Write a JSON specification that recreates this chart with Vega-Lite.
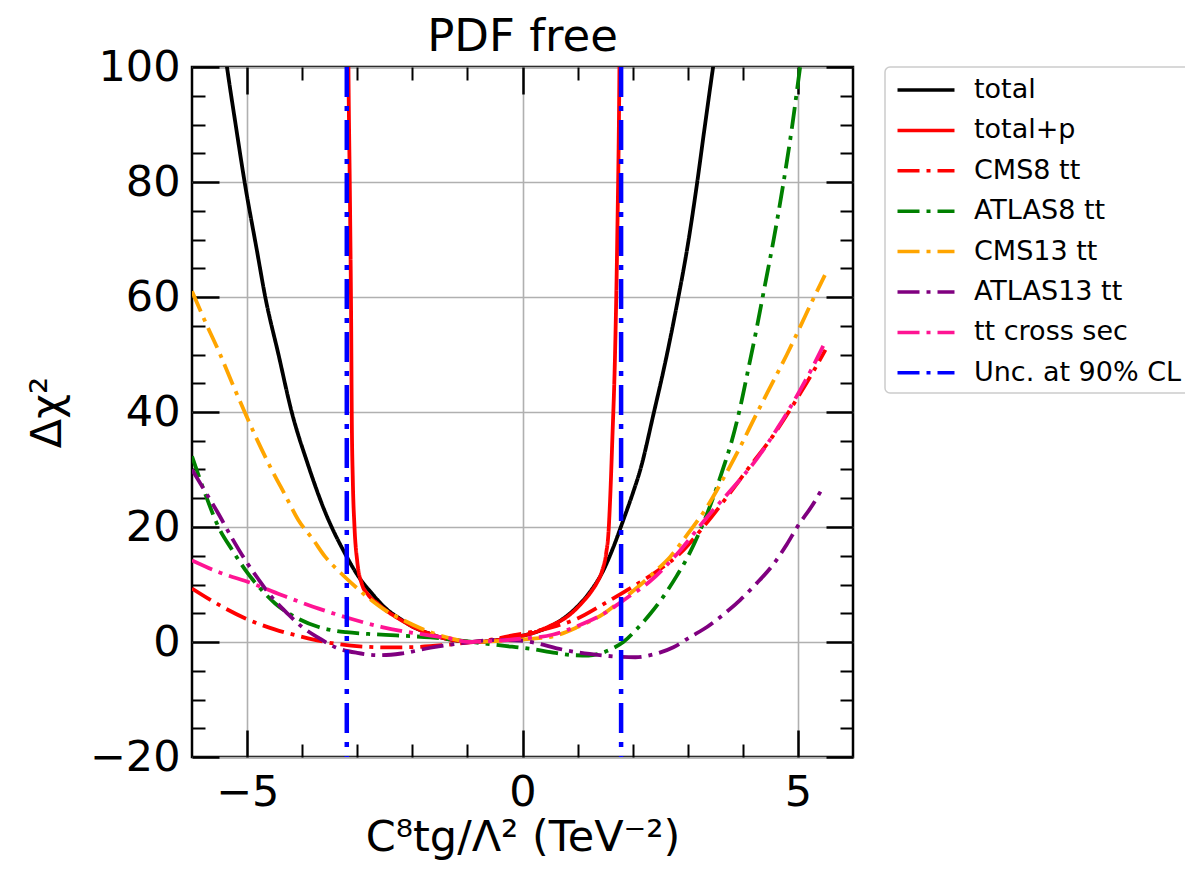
{
  "$schema": "https://vega.github.io/schema/vega-lite/v6.json",
  "width": 661,
  "height": 690,
  "autosize": {"type": "none"},
  "padding": {"left": 192, "top": 67, "right": 332, "bottom": 119},
  "background": "white",
  "title": {"text": "PDF free", "fontSize": 45, "font": "DejaVu Sans", "fontWeight": "normal", "offset": -14, "anchor": "middle", "color": "black"},
  "config": {
    "view": {"stroke": "black", "strokeWidth": 2.5},
    "font": "DejaVu Sans",
    "axis": {"labelFont": "DejaVu Sans", "titleFont": "DejaVu Sans", "labelColor": "black", "titleColor": "black", "tickColor": "black", "domain": false},
    "legend": {"padding": 7, "strokeColor": "#cccccc", "strokeWidth": 1.5, "cornerRadius": 5, "fillColor": "white", "labelFontSize": 27, "labelFont": "DejaVu Sans", "labelColor": "black", "symbolType": "M-2,0L2,0", "symbolSize": 812, "symbolStrokeWidth": 3.5, "symbolOffset": 18, "rowPadding": 11.4, "labelOffset": 32, "labelLimit": 400}
  },
  "datasets": {
    "curves": [
      {"s": "total", "x": -5.45, "y": 106}, {"s": "total", "x": -5.365, "y": 100}, {"s": "total", "x": -5.2, "y": 89.5}, {"s": "total", "x": -5.045, "y": 80}, {"s": "total", "x": -4.82, "y": 68}, {"s": "total", "x": -4.67, "y": 60}, {"s": "total", "x": -4.43, "y": 50}, {"s": "total", "x": -4.19, "y": 40}, {"s": "total", "x": -3.9, "y": 31}, {"s": "total", "x": -3.6, "y": 23}, {"s": "total", "x": -3.2, "y": 15}, {"s": "total", "x": -2.95, "y": 11}, {"s": "total", "x": -2.73, "y": 8.4}, {"s": "total", "x": -2.5, "y": 6}, {"s": "total", "x": -2.2, "y": 3.9}, {"s": "total", "x": -2.0, "y": 2.7}, {"s": "total", "x": -1.7, "y": 1.5}, {"s": "total", "x": -1.4, "y": 0.6}, {"s": "total", "x": -1.1, "y": 0.15}, {"s": "total", "x": -0.9, "y": 0}, {"s": "total", "x": -0.6, "y": 0.15}, {"s": "total", "x": -0.3, "y": 0.6}, {"s": "total", "x": 0, "y": 1.1}, {"s": "total", "x": 0.2, "y": 1.6}, {"s": "total", "x": 0.5, "y": 2.7}, {"s": "total", "x": 0.8, "y": 4.5}, {"s": "total", "x": 1.0, "y": 6.2}, {"s": "total", "x": 1.2, "y": 8.4}, {"s": "total", "x": 1.47, "y": 12.5}, {"s": "total", "x": 1.65, "y": 16.5}, {"s": "total", "x": 1.83, "y": 21.2}, {"s": "total", "x": 2.0, "y": 25.8}, {"s": "total", "x": 2.14, "y": 30}, {"s": "total", "x": 2.38, "y": 39.7}, {"s": "total", "x": 2.6, "y": 49}, {"s": "total", "x": 2.8, "y": 58.5}, {"s": "total", "x": 3.0, "y": 69}, {"s": "total", "x": 3.165, "y": 79.5}, {"s": "total", "x": 3.3, "y": 89}, {"s": "total", "x": 3.46, "y": 100}, {"s": "total", "x": 3.55, "y": 106},

      {"s": "total+p", "x": -3.165, "y": 106}, {"s": "total+p", "x": -3.16, "y": 100}, {"s": "total+p", "x": -3.13, "y": 75}, {"s": "total+p", "x": -3.11, "y": 55}, {"s": "total+p", "x": -3.1, "y": 40}, {"s": "total+p", "x": -3.08, "y": 28}, {"s": "total+p", "x": -3.05, "y": 20}, {"s": "total+p", "x": -3.0, "y": 14}, {"s": "total+p", "x": -2.92, "y": 10.2}, {"s": "total+p", "x": -2.8, "y": 8.2}, {"s": "total+p", "x": -2.62, "y": 6.6}, {"s": "total+p", "x": -2.45, "y": 5.3}, {"s": "total+p", "x": -2.2, "y": 3.8}, {"s": "total+p", "x": -2.0, "y": 2.7}, {"s": "total+p", "x": -1.7, "y": 1.5}, {"s": "total+p", "x": -1.4, "y": 0.6}, {"s": "total+p", "x": -1.1, "y": 0.15}, {"s": "total+p", "x": -0.9, "y": 0}, {"s": "total+p", "x": -0.6, "y": 0.15}, {"s": "total+p", "x": -0.3, "y": 0.6}, {"s": "total+p", "x": 0, "y": 1.1}, {"s": "total+p", "x": 0.2, "y": 1.6}, {"s": "total+p", "x": 0.5, "y": 2.8}, {"s": "total+p", "x": 0.81, "y": 4.4}, {"s": "total+p", "x": 1.05, "y": 6.5}, {"s": "total+p", "x": 1.25, "y": 8.8}, {"s": "total+p", "x": 1.35, "y": 10.3}, {"s": "total+p", "x": 1.45, "y": 12.5}, {"s": "total+p", "x": 1.52, "y": 15.5}, {"s": "total+p", "x": 1.56, "y": 18.9}, {"s": "total+p", "x": 1.59, "y": 24.6}, {"s": "total+p", "x": 1.63, "y": 35}, {"s": "total+p", "x": 1.68, "y": 50}, {"s": "total+p", "x": 1.72, "y": 70}, {"s": "total+p", "x": 1.76, "y": 100}, {"s": "total+p", "x": 1.765, "y": 106},

      {"s": "CMS8 tt", "x": -6, "y": 9.3}, {"s": "CMS8 tt", "x": -5.5, "y": 6.4}, {"s": "CMS8 tt", "x": -5.03, "y": 4.1}, {"s": "CMS8 tt", "x": -4.5, "y": 2.2}, {"s": "CMS8 tt", "x": -4.0, "y": 0.9}, {"s": "CMS8 tt", "x": -3.4, "y": -0.3}, {"s": "CMS8 tt", "x": -2.9, "y": -0.8}, {"s": "CMS8 tt", "x": -2.4, "y": -0.95}, {"s": "CMS8 tt", "x": -1.9, "y": -0.85}, {"s": "CMS8 tt", "x": -1.4, "y": -0.5}, {"s": "CMS8 tt", "x": -0.9, "y": 0}, {"s": "CMS8 tt", "x": -0.5, "y": 0.5}, {"s": "CMS8 tt", "x": -0.16, "y": 1.2}, {"s": "CMS8 tt", "x": 0.2, "y": 1.8}, {"s": "CMS8 tt", "x": 0.62, "y": 2.8}, {"s": "CMS8 tt", "x": 1.0, "y": 4.1}, {"s": "CMS8 tt", "x": 1.47, "y": 6.6}, {"s": "CMS8 tt", "x": 2.1, "y": 10.2}, {"s": "CMS8 tt", "x": 2.5, "y": 12.7}, {"s": "CMS8 tt", "x": 2.86, "y": 15.4}, {"s": "CMS8 tt", "x": 3.3, "y": 20.2}, {"s": "CMS8 tt", "x": 3.71, "y": 25.2}, {"s": "CMS8 tt", "x": 4.1, "y": 30.2}, {"s": "CMS8 tt", "x": 4.55, "y": 35.9}, {"s": "CMS8 tt", "x": 5.04, "y": 43.2}, {"s": "CMS8 tt", "x": 5.3, "y": 47.4}, {"s": "CMS8 tt", "x": 5.5, "y": 50.8},

      {"s": "ATLAS8 tt", "x": -6, "y": 32.3}, {"s": "ATLAS8 tt", "x": -5.75, "y": 25.5}, {"s": "ATLAS8 tt", "x": -5.52, "y": 20}, {"s": "ATLAS8 tt", "x": -5.27, "y": 16}, {"s": "ATLAS8 tt", "x": -5.03, "y": 12.5}, {"s": "ATLAS8 tt", "x": -4.75, "y": 9.2}, {"s": "ATLAS8 tt", "x": -4.49, "y": 6.7}, {"s": "ATLAS8 tt", "x": -4.1, "y": 4.2}, {"s": "ATLAS8 tt", "x": -3.7, "y": 2.6}, {"s": "ATLAS8 tt", "x": -3.2, "y": 1.7}, {"s": "ATLAS8 tt", "x": -2.8, "y": 1.4}, {"s": "ATLAS8 tt", "x": -2.3, "y": 1.15}, {"s": "ATLAS8 tt", "x": -1.67, "y": 0.8}, {"s": "ATLAS8 tt", "x": -0.95, "y": 0.05}, {"s": "ATLAS8 tt", "x": -0.4, "y": -0.6}, {"s": "ATLAS8 tt", "x": 0.15, "y": -1.2}, {"s": "ATLAS8 tt", "x": 0.6, "y": -1.9}, {"s": "ATLAS8 tt", "x": 0.95, "y": -2.3}, {"s": "ATLAS8 tt", "x": 1.2, "y": -2.35}, {"s": "ATLAS8 tt", "x": 1.41, "y": -2.0}, {"s": "ATLAS8 tt", "x": 1.62, "y": -1.2}, {"s": "ATLAS8 tt", "x": 1.83, "y": 0}, {"s": "ATLAS8 tt", "x": 2.08, "y": 2.3}, {"s": "ATLAS8 tt", "x": 2.32, "y": 4.9}, {"s": "ATLAS8 tt", "x": 2.55, "y": 7.8}, {"s": "ATLAS8 tt", "x": 2.8, "y": 11.5}, {"s": "ATLAS8 tt", "x": 3.0, "y": 14.8}, {"s": "ATLAS8 tt", "x": 3.23, "y": 19.5}, {"s": "ATLAS8 tt", "x": 3.45, "y": 24.8}, {"s": "ATLAS8 tt", "x": 3.65, "y": 30.4}, {"s": "ATLAS8 tt", "x": 3.8, "y": 35}, {"s": "ATLAS8 tt", "x": 3.95, "y": 40.7}, {"s": "ATLAS8 tt", "x": 4.1, "y": 47.5}, {"s": "ATLAS8 tt", "x": 4.25, "y": 54.5}, {"s": "ATLAS8 tt", "x": 4.4, "y": 62}, {"s": "ATLAS8 tt", "x": 4.56, "y": 70}, {"s": "ATLAS8 tt", "x": 4.74, "y": 80}, {"s": "ATLAS8 tt", "x": 4.9, "y": 90}, {"s": "ATLAS8 tt", "x": 5.04, "y": 100}, {"s": "ATLAS8 tt", "x": 5.1, "y": 104},

      {"s": "CMS13 tt", "x": -6, "y": 61}, {"s": "CMS13 tt", "x": -5.75, "y": 55.5}, {"s": "CMS13 tt", "x": -5.52, "y": 50.7}, {"s": "CMS13 tt", "x": -5.27, "y": 45}, {"s": "CMS13 tt", "x": -5.03, "y": 39.7}, {"s": "CMS13 tt", "x": -4.8, "y": 34.8}, {"s": "CMS13 tt", "x": -4.55, "y": 29.9}, {"s": "CMS13 tt", "x": -4.3, "y": 25.4}, {"s": "CMS13 tt", "x": -4.07, "y": 21.2}, {"s": "CMS13 tt", "x": -3.8, "y": 17.8}, {"s": "CMS13 tt", "x": -3.58, "y": 14.8}, {"s": "CMS13 tt", "x": -3.3, "y": 12}, {"s": "CMS13 tt", "x": -3.1, "y": 10.2}, {"s": "CMS13 tt", "x": -2.8, "y": 7.7}, {"s": "CMS13 tt", "x": -2.49, "y": 5.5}, {"s": "CMS13 tt", "x": -2.16, "y": 3.8}, {"s": "CMS13 tt", "x": -1.85, "y": 2.4}, {"s": "CMS13 tt", "x": -1.55, "y": 1.3}, {"s": "CMS13 tt", "x": -1.25, "y": 0.5}, {"s": "CMS13 tt", "x": -0.95, "y": 0}, {"s": "CMS13 tt", "x": -0.6, "y": 0.1}, {"s": "CMS13 tt", "x": -0.2, "y": 0.3}, {"s": "CMS13 tt", "x": 0.2, "y": 0.6}, {"s": "CMS13 tt", "x": 0.56, "y": 1.0}, {"s": "CMS13 tt", "x": 1.0, "y": 2.6}, {"s": "CMS13 tt", "x": 1.47, "y": 4.9}, {"s": "CMS13 tt", "x": 1.8, "y": 7.3}, {"s": "CMS13 tt", "x": 2.1, "y": 9.6}, {"s": "CMS13 tt", "x": 2.4, "y": 12.2}, {"s": "CMS13 tt", "x": 2.68, "y": 14.8}, {"s": "CMS13 tt", "x": 3.0, "y": 18.8}, {"s": "CMS13 tt", "x": 3.35, "y": 23.5}, {"s": "CMS13 tt", "x": 3.65, "y": 28.5}, {"s": "CMS13 tt", "x": 3.95, "y": 33.9}, {"s": "CMS13 tt", "x": 4.25, "y": 39.7}, {"s": "CMS13 tt", "x": 4.56, "y": 45.5}, {"s": "CMS13 tt", "x": 4.8, "y": 50}, {"s": "CMS13 tt", "x": 5.04, "y": 54.8}, {"s": "CMS13 tt", "x": 5.27, "y": 59.5}, {"s": "CMS13 tt", "x": 5.49, "y": 63.8},

      {"s": "ATLAS13 tt", "x": -6, "y": 30}, {"s": "ATLAS13 tt", "x": -5.75, "y": 26}, {"s": "ATLAS13 tt", "x": -5.52, "y": 22.3}, {"s": "ATLAS13 tt", "x": -5.27, "y": 18}, {"s": "ATLAS13 tt", "x": -5.03, "y": 14.2}, {"s": "ATLAS13 tt", "x": -4.8, "y": 11}, {"s": "ATLAS13 tt", "x": -4.55, "y": 7.8}, {"s": "ATLAS13 tt", "x": -4.25, "y": 4.8}, {"s": "ATLAS13 tt", "x": -4.0, "y": 2.6}, {"s": "ATLAS13 tt", "x": -3.7, "y": 0.7}, {"s": "ATLAS13 tt", "x": -3.4, "y": -0.9}, {"s": "ATLAS13 tt", "x": -3.0, "y": -1.9}, {"s": "ATLAS13 tt", "x": -2.6, "y": -2.3}, {"s": "ATLAS13 tt", "x": -2.2, "y": -2.0}, {"s": "ATLAS13 tt", "x": -1.67, "y": -1.0}, {"s": "ATLAS13 tt", "x": -1.2, "y": -0.3}, {"s": "ATLAS13 tt", "x": -0.95, "y": 0}, {"s": "ATLAS13 tt", "x": -0.5, "y": 0.35}, {"s": "ATLAS13 tt", "x": -0.04, "y": 0.25}, {"s": "ATLAS13 tt", "x": 0.3, "y": -0.3}, {"s": "ATLAS13 tt", "x": 0.62, "y": -1.1}, {"s": "ATLAS13 tt", "x": 1.0, "y": -1.8}, {"s": "ATLAS13 tt", "x": 1.47, "y": -2.35}, {"s": "ATLAS13 tt", "x": 1.8, "y": -2.6}, {"s": "ATLAS13 tt", "x": 2.05, "y": -2.65}, {"s": "ATLAS13 tt", "x": 2.4, "y": -2.1}, {"s": "ATLAS13 tt", "x": 2.74, "y": -0.9}, {"s": "ATLAS13 tt", "x": 3.05, "y": 0.9}, {"s": "ATLAS13 tt", "x": 3.35, "y": 2.6}, {"s": "ATLAS13 tt", "x": 3.65, "y": 4.8}, {"s": "ATLAS13 tt", "x": 3.95, "y": 7.3}, {"s": "ATLAS13 tt", "x": 4.25, "y": 10.2}, {"s": "ATLAS13 tt", "x": 4.56, "y": 13.6}, {"s": "ATLAS13 tt", "x": 4.8, "y": 17}, {"s": "ATLAS13 tt", "x": 5.0, "y": 20.2}, {"s": "ATLAS13 tt", "x": 5.25, "y": 23.6}, {"s": "ATLAS13 tt", "x": 5.46, "y": 27},

      {"s": "tt cross sec", "x": -6, "y": 14.2}, {"s": "tt cross sec", "x": -5.5, "y": 12.1}, {"s": "tt cross sec", "x": -4.91, "y": 10.2}, {"s": "tt cross sec", "x": -4.3, "y": 7.9}, {"s": "tt cross sec", "x": -3.7, "y": 5.8}, {"s": "tt cross sec", "x": -3.1, "y": 4.0}, {"s": "tt cross sec", "x": -2.55, "y": 2.6}, {"s": "tt cross sec", "x": -2.0, "y": 1.6}, {"s": "tt cross sec", "x": -1.37, "y": 0.7}, {"s": "tt cross sec", "x": -0.95, "y": 0}, {"s": "tt cross sec", "x": -0.5, "y": 0.2}, {"s": "tt cross sec", "x": 0, "y": 0.6}, {"s": "tt cross sec", "x": 0.56, "y": 1.3}, {"s": "tt cross sec", "x": 1.0, "y": 2.8}, {"s": "tt cross sec", "x": 1.47, "y": 4.9}, {"s": "tt cross sec", "x": 1.9, "y": 7.7}, {"s": "tt cross sec", "x": 2.32, "y": 10.6}, {"s": "tt cross sec", "x": 2.85, "y": 15.8}, {"s": "tt cross sec", "x": 3.35, "y": 21.7}, {"s": "tt cross sec", "x": 3.8, "y": 26.6}, {"s": "tt cross sec", "x": 4.25, "y": 31.8}, {"s": "tt cross sec", "x": 4.65, "y": 37.5}, {"s": "tt cross sec", "x": 5.04, "y": 43.8}, {"s": "tt cross sec", "x": 5.25, "y": 47.5}, {"s": "tt cross sec", "x": 5.46, "y": 51.5}
    ],
    "unc": [{"s": "Unc. at 90% CL", "x": -3.19}, {"s": "Unc. at 90% CL", "x": 1.79}],
    "frame": [{"x": -6, "y": -20}, {"x": 6, "y": 100}]
  },
  "layer": [
    {
      "data": {"name": "curves"},
      "mark": {"type": "line", "clip": true, "strokeWidth": 3.8, "interpolate": "monotone"},
      "encoding": {
        "x": {"field": "x", "type": "quantitative", "scale": {"domain": [-6, 6], "nice": false, "zero": false},
          "axis": {"orient": "bottom", "values": [-5, 0, 5], "format": "d", "grid": true, "gridColor": "#b0b0b0", "gridWidth": 1.6, "ticks": false, "labelFontSize": 43, "labelPadding": 14, "title": "C⁸tg/Λ² (TeV⁻²)", "titleFontSize": 43, "titleFontWeight": "normal", "titlePadding": 2}},
        "y": {"field": "y", "type": "quantitative", "scale": {"domain": [-20, 100], "nice": false, "zero": false},
          "axis": {"orient": "left", "values": [-20, 0, 20, 40, 60, 80, 100], "format": "d", "grid": true, "gridColor": "#b0b0b0", "gridWidth": 1.6, "ticks": false, "labelFontSize": 43, "labelPadding": 12, "title": "Δχ²", "titleFontSize": 43, "titleFontWeight": "normal", "titlePadding": 20}},
        "color": {"field": "s", "type": "nominal",
          "scale": {"domain": ["total", "total+p", "CMS8 tt", "ATLAS8 tt", "CMS13 tt", "ATLAS13 tt", "tt cross sec", "Unc. at 90% CL"],
                    "range": ["#000000", "#ff0000", "#ff0000", "#008000", "#ffa500", "#800080", "#ff1493", "#0000ff"]},
          "legend": {"title": null, "orient": "none", "legendX": 693, "legendY": 0}},
        "strokeDash": {"field": "s", "type": "nominal",
          "scale": {"domain": ["total", "total+p", "CMS8 tt", "ATLAS8 tt", "CMS13 tt", "ATLAS13 tt", "tt cross sec", "Unc. at 90% CL"],
                    "range": [[1, 0], [1, 0], [22, 7, 4, 7], [22, 7, 4, 7], [22, 7, 4, 7], [22, 7, 4, 7], [22, 7, 4, 7], [22, 7, 4, 7]]},
          "legend": {"title": null, "orient": "none", "legendX": 693, "legendY": 0}}
      }
    },
    {
      "data": {"name": "unc"},
      "mark": {"type": "rule", "strokeWidth": 4.5, "strokeDash": [30, 9, 5, 9], "color": "#0000ff"},
      "encoding": {
        "x": {"field": "x", "type": "quantitative", "scale": {"domain": [-6, 6], "nice": false, "zero": false}, "axis": null}
      }
    },
    {
      "data": {"name": "frame"},
      "mark": {"type": "point", "opacity": 0},
      "encoding": {
        "x": {"field": "x", "type": "quantitative", "scale": {"domain": [-6, 6], "nice": false, "zero": false},
          "axis": {"orient": "bottom", "values": [-5, 0, 5], "labels": false, "title": null, "grid": false, "ticks": true, "tickSize": -27, "tickWidth": 2.5}},
        "y": {"field": "y", "type": "quantitative", "scale": {"domain": [-20, 100], "nice": false, "zero": false},
          "axis": {"orient": "left", "values": [-20, 0, 20, 40, 60, 80, 100], "labels": false, "title": null, "grid": false, "ticks": true, "tickSize": -27, "tickWidth": 2.5}}
      }
    },
    {
      "data": {"name": "frame"},
      "mark": {"type": "point", "opacity": 0},
      "encoding": {
        "x": {"field": "x", "type": "quantitative", "scale": {"domain": [-6, 6], "nice": false, "zero": false},
          "axis": {"orient": "bottom", "values": [-4, -3, -2, -1, 1, 2, 3, 4], "labels": false, "title": null, "grid": false, "ticks": true, "tickSize": -13, "tickWidth": 2}},
        "y": {"field": "y", "type": "quantitative", "scale": {"domain": [-20, 100], "nice": false, "zero": false},
          "axis": {"orient": "left", "values": [-15, -10, -5, 5, 10, 15, 25, 30, 35, 45, 50, 55, 65, 70, 75, 85, 90, 95], "labels": false, "title": null, "grid": false, "ticks": true, "tickSize": -13, "tickWidth": 2}}
      }
    },
    {
      "data": {"name": "frame"},
      "mark": {"type": "point", "opacity": 0},
      "encoding": {
        "x": {"field": "x", "type": "quantitative", "scale": {"domain": [-6, 6], "nice": false, "zero": false},
          "axis": {"orient": "top", "values": [-5, 0, 5], "labels": false, "title": null, "grid": false, "ticks": true, "tickSize": -27, "tickWidth": 2.5}},
        "y": {"field": "y", "type": "quantitative", "scale": {"domain": [-20, 100], "nice": false, "zero": false},
          "axis": {"orient": "right", "values": [-20, 0, 20, 40, 60, 80, 100], "labels": false, "title": null, "grid": false, "ticks": true, "tickSize": -27, "tickWidth": 2.5}}
      }
    },
    {
      "data": {"name": "frame"},
      "mark": {"type": "point", "opacity": 0},
      "encoding": {
        "x": {"field": "x", "type": "quantitative", "scale": {"domain": [-6, 6], "nice": false, "zero": false},
          "axis": {"orient": "top", "values": [-4, -3, -2, -1, 1, 2, 3, 4], "labels": false, "title": null, "grid": false, "ticks": true, "tickSize": -13, "tickWidth": 2}},
        "y": {"field": "y", "type": "quantitative", "scale": {"domain": [-20, 100], "nice": false, "zero": false},
          "axis": {"orient": "right", "values": [-15, -10, -5, 5, 10, 15, 25, 30, 35, 45, 50, 55, 65, 70, 75, 85, 90, 95], "labels": false, "title": null, "grid": false, "ticks": true, "tickSize": -13, "tickWidth": 2}}
      }
    }
  ],
  "resolve": {"axis": {"x": "independent", "y": "independent"}}
}
